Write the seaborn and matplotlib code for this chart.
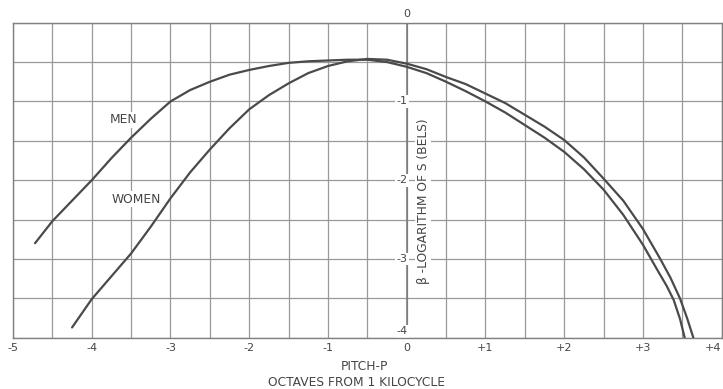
import numpy as np
import pandas as pd
import matplotlib
matplotlib.use("Agg")
import matplotlib.pyplot as plt
import seaborn as sns

# ---- data ----
men_x = [-4.72, -4.5, -4.25, -4.0, -3.75, -3.5, -3.25, -3.0, -2.75, -2.5, -2.25, -2.0, -1.75, -1.5,
         -1.25, -1.0, -0.75, -0.5, -0.25, 0.0, 0.25, 0.5, 0.75, 1.0, 1.25, 1.5, 1.75, 2.0, 2.25, 2.5,
         2.75, 3.0, 3.2, 3.3, 3.39, 3.47, 3.53]
men_y = [-2.8, -2.52, -2.26, -2.0, -1.72, -1.46, -1.22, -1.0, -0.855, -0.75, -0.66, -0.60, -0.55, -0.51,
         -0.49, -0.48, -0.47, -0.47, -0.50, -0.56, -0.64, -0.75, -0.87, -1.0, -1.14, -1.30, -1.46, -1.64, -1.86, -2.12,
         -2.44, -2.82, -3.17, -3.34, -3.52, -3.76, -4.0]

women_x = [-4.25, -4.0, -3.75, -3.5, -3.25, -3.0, -2.75, -2.5, -2.25, -2.0, -1.75, -1.5, -1.25, -1.0, -0.75,
           -0.5, -0.25, 0.0, 0.25, 0.5, 0.75, 1.0, 1.25, 1.5, 1.75, 2.0, 2.25, 2.5, 2.75, 3.0, 3.22, 3.35, 3.47, 3.56, 3.64]
women_y = [-3.87, -3.51, -3.22, -2.93, -2.59, -2.23, -1.90, -1.61, -1.34, -1.10, -0.92, -0.77, -0.64, -0.55, -0.49,
           -0.46, -0.47, -0.52, -0.59, -0.69, -0.78, -0.90, -1.02, -1.17, -1.32, -1.49, -1.71, -1.98, -2.26, -2.62, -3.0, -3.24, -3.5, -3.75, -4.0]

x_ticks = [-5, -4, -3, -2, -1, 0, 1, 2, 3, 4]
x_tick_labels = ["-5", "-4", "-3", "-2", "-1", "0", "+1", "+2", "+3", "+4"]
y_ticks = [0, -1, -2, -3, -4]
y_tick_labels = ["0", "-1", "-2", "-3", "-4"]

series_labels = ["MEN", "WOMEN"]
x_label_lines = ["PITCH-P", "OCTAVES FROM 1 KILOCYCLE"]
y_label = "\u03b2 -LOGARITHM OF S (BELS)"

df = pd.concat([
    pd.DataFrame({"x": men_x, "y": men_y, "who": "MEN"}),
    pd.DataFrame({"x": women_x, "y": women_y, "who": "WOMEN"}),
])

sns.set_theme(style="white")
plt.rcParams["font.family"] = ["DejaVu Sans"]

fig = plt.figure(figsize=(7.23, 3.89), dpi=100)
ax = fig.add_axes([13 / 723, 1 - 337.7 / 389, (721.7 - 13) / 723, (337.7 - 22.7) / 389])

txt_color = "#454545"
line_color = "#4a4a4a"
fs = 8.8

# grid every 0.5
for gx in np.arange(-5, 4.01, 0.5):
    ax.axvline(gx, color="#999999", lw=0.9, zorder=0)
for gy in np.arange(-4, 0.01, 0.5):
    ax.axhline(gy, color="#999999", lw=0.9, zorder=0)
ax.axvline(0, color="#777777", lw=1.1, zorder=0.5)

sns.lineplot(data=df, x="x", y="y", hue="who", units="who", estimator=None, sort=False,
             palette=[line_color, line_color], lw=1.6, legend=False, ax=ax, zorder=3)

ax.set_xlim(-5, 4)
ax.set_ylim(-4, 0)
ax.set_xticks(x_ticks)
ax.set_xticklabels(x_tick_labels, fontsize=8, color=txt_color)
ax.get_xticklabels()[-1].set_ha("right")
ax.tick_params(axis="x", length=0, pad=4)
ax.set_yticks([])
ax.set_xlabel("")
ax.set_ylabel("")
for s in ax.spines.values():
    s.set_color("#808080")
    s.set_linewidth(1.0)

bbox = dict(facecolor="white", edgecolor="none", pad=1.0)
# y tick labels placed along the x=0 axis
for yv, lab in zip(y_ticks, y_tick_labels):
    if yv == 0:
        ax.text(0, 0.11, lab, ha="center", va="center", fontsize=8, color=txt_color, clip_on=False)
    elif yv == -4:
        ax.text(-0.06, yv + 0.08, lab, ha="center", va="center", fontsize=8, color=txt_color, bbox=bbox, zorder=2)
    else:
        ax.text(-0.06, yv, lab, ha="center", va="center", fontsize=8, color=txt_color, bbox=bbox, zorder=2)

ax.text(0.21, -2.27, y_label, rotation=90, ha="center", va="center", fontsize=fs,
        color=txt_color, bbox=bbox, zorder=2)

# series labels
ax.text(-3.6, -1.235, series_labels[0], ha="center", va="center", fontsize=fs, color=txt_color, bbox=bbox, zorder=2)
ax.text(-3.43, -2.24, series_labels[1], ha="center", va="center", fontsize=fs, color=txt_color, bbox=bbox, zorder=2)

fig.text(364 / 723, 1 - 366 / 389, x_label_lines[0], ha="center", va="center", fontsize=fs, color=txt_color)
fig.text(356 / 723, 1 - 383 / 389, x_label_lines[1], ha="center", va="center", fontsize=fs, color=txt_color)

fig.savefig("out.png", dpi=100, facecolor="white")
